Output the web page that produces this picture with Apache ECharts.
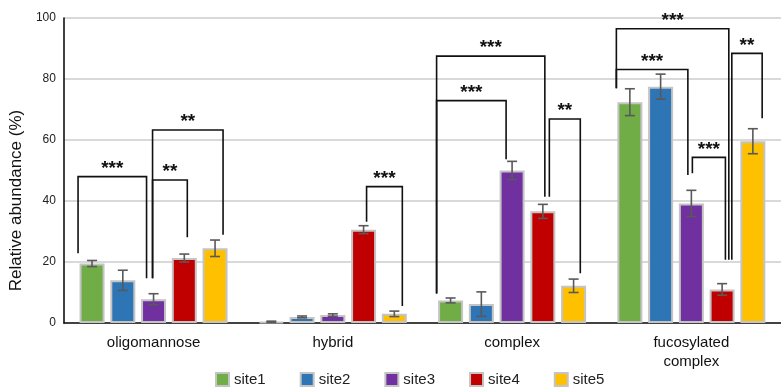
<!DOCTYPE html>
<html>
<head>
<meta charset="utf-8">
<script src="https://cdn.jsdelivr.net/npm/echarts@6/dist/echarts.min.js"></script>
<style>
  html, body { margin: 0; padding: 0; background: #fff; }
  #chart { width: 781px; height: 390px; }
</style>
</head>
<body>
<div id="chart"></div>
<script>
// ---- data ----
const categories = ['oligomannose', 'hybrid', 'complex', 'fucosylated\ncomplex'];
const siteNames = ['site1', 'site2', 'site3', 'site4', 'site5'];

// mean relative abundance (%) per glycan class
const site1 = [19.5, 0.4, 7.4, 72.4];
const site2 = [14.0, 2.0, 6.2, 77.5];
const site3 = [7.8, 2.6, 50.0, 39.2];
const site4 = [21.3, 30.6, 36.6, 11.0];
const site5 = [24.5, 3.0, 12.2, 59.6];

// standard deviation per glycan class
const err1 = [1.0, 0.2, 0.8, 4.4];
const err2 = [3.3, 0.3, 4.0, 4.1];
const err3 = [1.8, 0.4, 3.0, 4.3];
const err4 = [1.3, 1.3, 2.3, 1.9];
const err5 = [2.7, 0.9, 2.2, 4.1];

const yTicks = { min: 0, max: 100, interval: 20 };

// significance brackets: [category, siteA, siteB, leg end A (%), leg end B (%), bracket height (%), label]
const comparisons = [
  [0, 0, 2, 22.9, 14.7, 48.0, '***'],
  [0, 2, 3, 14.7, 28.1, 46.9, '**'],
  [0, 2, 4, 14.7, 28.9, 63.3, '**'],
  [1, 3, 4, 33.2, 5.6, 44.7, '***'],
  [2, 0, 3, 9.7, 41.4, 87.5, '***'],
  [2, 0, 2, 9.7, 53.7, 72.9, '***'],
  [2, 3, 4, 41.4, 16.3, 66.9, '**'],
  [3, 0, 3, 77.0, 20.7, 96.5, '***'],
  [3, 0, 2, 77.0, 48.5, 83.1, '***'],
  [3, 2, 3, 49.1, 20.7, 54.3, '***'],
  [3, 3, 4, 20.7, 67.1, 88.4, '**']
];

// ---- layout / style ----
const COLORS = ['#70ad47', '#2e75b6', '#7030a0', '#c00000', '#ffc000'];
const BAR_W = 25;
const BAR_GAP = 0.23;
const PITCH = BAR_W * (1 + BAR_GAP);
// horizontal leg offsets (px) from the bar centre, so parallel legs do not overlap
const legOffsets = [
  [-14, -7], [-1, 3], [-1, 8], [3, 8],
  [-14, 2], [-14, -6], [6.5, 6.7],
  [-13.5, 6.7], [-13.5, -3.5], [1, 3.3], [9.7, 9.3]
];

const values = [site1, site2, site3, site4, site5];
const errors = [err1, err2, err3, err4, err5];

const barSeries = siteNames.map((name, s) => ({
  name: name,
  type: 'bar',
  data: values[s],
  barWidth: BAR_W,
  barGap: (BAR_GAP * 100) + '%',
  itemStyle: { color: COLORS[s], borderColor: '#c4c4c4', borderWidth: 2 },
  emphasis: { disabled: true },
  z: 2
}));

const errData = [];
values.forEach((arr, s) => arr.forEach((v, c) => errData.push([c, s, v, errors[s][c]])));

const errorSeries = {
  type: 'custom',
  data: errData,
  encode: { x: 0, y: 2 },
  z: 5,
  silent: true,
  renderItem: function (params, api) {
    const c = api.value(0), s = api.value(1), v = api.value(2), e = api.value(3);
    const x = api.coord([c, v])[0] + (s - 2) * PITCH;
    const yT = api.coord([c, v + e])[1];
    const yB = api.coord([c, Math.max(0, v - e)])[1];
    const cap = 5;
    const st = { stroke: '#595959', lineWidth: 1.6 };
    return {
      type: 'group',
      children: [
        { type: 'line', shape: { x1: x, y1: yT, x2: x, y2: yB }, style: st },
        { type: 'line', shape: { x1: x - cap, y1: yT, x2: x + cap, y2: yT }, style: st },
        { type: 'line', shape: { x1: x - cap, y1: yB, x2: x + cap, y2: yB }, style: st }
      ]
    };
  }
};

const bracketSeries = {
  type: 'custom',
  data: comparisons.map((d, i) => [d[0], d[1], d[2], d[3], d[4], d[5], i]),
  encode: { x: 0, y: 5 },
  z: 6,
  silent: true,
  clip: false,
  renderItem: function (params, api) {
    const c = api.value(0), a = api.value(1), b = api.value(2);
    const i = api.value(6);
    const cx = api.coord([c, 0])[0];
    const xA = cx + (a - 2) * PITCH + legOffsets[i][0];
    const xB = cx + (b - 2) * PITCH + legOffsets[i][1];
    const yA = api.coord([c, api.value(3)])[1];
    const yB = api.coord([c, api.value(4)])[1];
    const yT = api.coord([c, api.value(5)])[1];
    return {
      type: 'group',
      children: [
        {
          type: 'polyline',
          shape: { points: [[xA, yA], [xA, yT], [xB, yT], [xB, yB]] },
          style: { stroke: '#111', lineWidth: 1.6, fill: null }
        },
        {
          type: 'text',
          style: {
            x: (xA + xB) / 2, y: yT - 8,
            text: comparisons[i][6],
            fill: '#111',
            font: 'bold 19px Arial, "Liberation Sans", sans-serif',
            align: 'center', verticalAlign: 'middle'
          }
        }
      ]
    };
  }
};

const chart = echarts.init(document.getElementById('chart'), null, { renderer: 'canvas' });
chart.setOption({
  animation: false,
  backgroundColor: '#fff',
  textStyle: { fontFamily: 'Arial, "Liberation Sans", sans-serif' },
  grid: { left: 61, top: 18, width: 730, height: 305, containLabel: false },
  legend: {
    data: siteNames,
    left: 215,
    top: 372,
    padding: 0,
    icon: 'rect',
    itemWidth: 13,
    itemHeight: 13,
    itemGap: 34,
    textStyle: { fontSize: 15, color: '#222' }
  },
  xAxis: {
    type: 'category',
    data: categories,
    axisLine: { lineStyle: { color: '#111', width: 1.6 } },
    axisTick: { show: false },
    axisLabel: { fontSize: 15, color: '#111', margin: 10, lineHeight: 19 },
    splitLine: { show: false }
  },
  yAxis: {
    type: 'value',
    min: yTicks.min,
    max: yTicks.max,
    interval: yTicks.interval,
    name: 'Relative abundance (%)',
    nameLocation: 'middle',
    nameGap: 28,
    nameTextStyle: { fontSize: 17, color: '#111', padding: [0, 60, 0, 0] },
    axisLine: { show: true, lineStyle: { color: '#111', width: 1.6 } },
    axisTick: { show: false },
    axisLabel: { fontSize: 12, color: '#222', margin: 8 },
    splitLine: { lineStyle: { color: '#d9d9d9', width: 2 } }
  },
  series: [...barSeries, errorSeries, bracketSeries]
});
</script>
</body>
</html>
